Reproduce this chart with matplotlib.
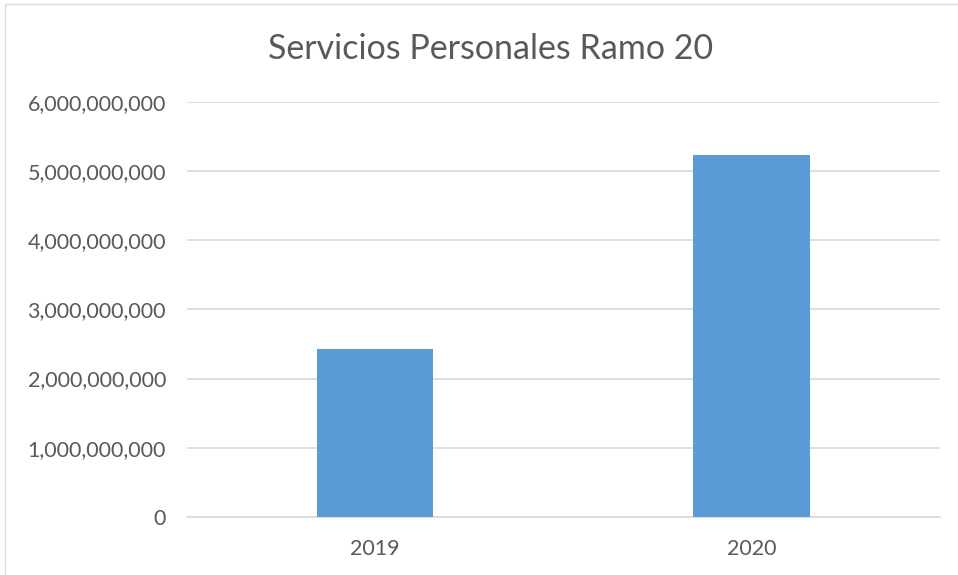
import matplotlib.pyplot as plt
from matplotlib.patches import Rectangle
from matplotlib.ticker import FuncFormatter

years = ['2019', '2020']
montos = [2.42e9, 5.235e9]

plt.rcParams['font.family'] = ['Lato', 'DejaVu Sans']
txt = '#595959'

fig = plt.figure(figsize=(9.58, 5.75), dpi=100)
ax = fig.add_axes([0.195, 0.101, 0.786, 0.722])

ax.bar(years, montos, width=0.31, color='#5B9BD5', zorder=3)
ax.set_ylim(0, 6e9)
ax.set_xlim(-0.5, 1.5)
ax.set_yticks([i * 1e9 for i in range(7)])
ax.yaxis.set_major_formatter(FuncFormatter(lambda v, p: f'{v:,.0f}'))
ax.grid(axis='y', color='#D9D9D9', linewidth=1.2, zorder=0)
for s in ['top', 'right', 'left']:
    ax.spines[s].set_visible(False)
ax.spines['bottom'].set_color('#D9D9D9')
ax.spines['bottom'].set_linewidth(1.2)
ax.tick_params(length=0, labelsize=15.5, labelcolor=txt)
ax.tick_params(axis='y', pad=15)
ax.tick_params(axis='x', pad=16)

fig.text(0.512, 0.915, 'Servicios Personales Ramo 20', ha='center', va='center',
         fontsize=24.5, color=txt)

fig.patches.append(Rectangle((0.005, -0.1), 1.2, 1.093, transform=fig.transFigure,
                             fill=False, edgecolor='#D9D9D9', linewidth=1))

fig.savefig('out.png', dpi=100)
